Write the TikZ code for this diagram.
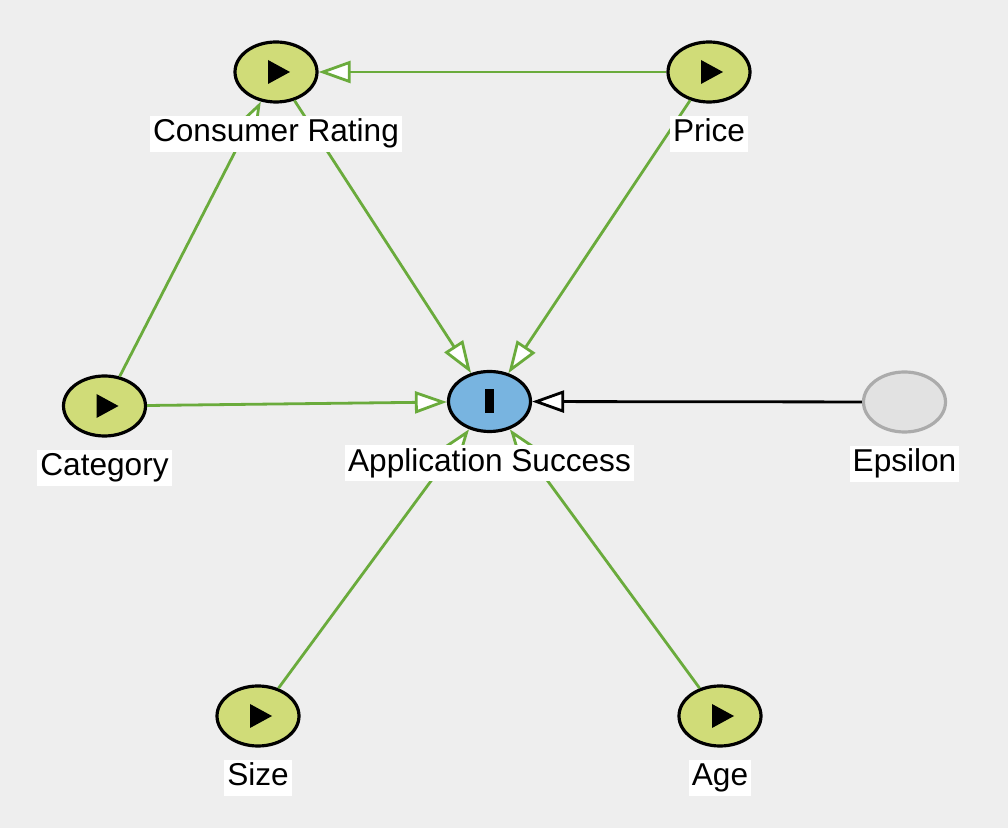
\documentclass[tikz,border=0pt]{standalone}
\usepackage{fontspec}
\setmainfont{Liberation Sans}
\usetikzlibrary{positioning,arrows.meta,shapes.geometric}
\definecolor{bgray}{HTML}{EEEEEE}
\definecolor{vargreen}{HTML}{D0DC78}
\definecolor{edgegreen}{HTML}{6AAB3C}
\definecolor{outblue}{HTML}{78B4E0}
\definecolor{errgray}{HTML}{E2E2E2}
\definecolor{errline}{HTML}{ABABAB}

\begin{document}
\begin{tikzpicture}[x=0.5pt,y=-0.5pt,
    var/.style={ellipse, draw, line width=1.6pt, fill=vargreen,
      minimum width=41pt, minimum height=30pt, inner sep=0pt,
      path picture={\fill[black] ([xshift=-4pt,yshift=6pt]path picture bounding box.center)
        -- ++(11pt,-6pt) -- ++(-11pt,-6pt) -- cycle;}},
    outvar/.style={var, fill=outblue,
      path picture={\fill[black] ([xshift=-2.25pt,yshift=-6pt]path picture bounding box.center)
        rectangle ++(4.5pt,12pt);}},
    errvar/.style={ellipse, draw=errline, line width=1.6pt, fill=errgray,
      minimum width=41pt, minimum height=30pt, inner sep=0pt},
    edge/.style={draw=edgegreen, line width=1.4pt,
      -{Triangle[length=16pt,width=11pt,fill=white]}},
    erredge/.style={edge, draw=black},
    lbl/.style={fill=white, inner xsep=1.5pt, inner ysep=1.5pt,
      text height=11.5pt, text depth=3.5pt, font=\fontsize{15.8}{18}\selectfont}]
  \fill[bgray] (0,0) rectangle (1008,828);
  \useasboundingbox (0,0) rectangle (1008,828);
  \node[var] (cr) at (276,72) {};
  \node[var] (price) at (709,72) {};
  \node[var] (cat) at (104.5,406) {};
  \node[outvar] (app) at (489.5,401.5) {};
  \node[errvar] (eps) at (904.5,402) {};
  \node[var] (size) at (258,716) {};
  \node[var] (age) at (720,716) {};
  \draw[edge] (price) -- (cr);
  \draw[edge] (cat) -- (cr);
  \draw[edge] (cr) -- (app);
  \draw[edge] (price) -- (app);
  \draw[edge] (cat) -- (app);
  \draw[edge] (size) -- (app);
  \draw[edge] (age) -- (app);
  \draw[erredge] (eps) -- (app);
  \node[lbl, below=6pt of cr] (crl) {Consumer Rating};
  \node[lbl, below=6pt of price] (pricel) {Price};
  \node[lbl, below=6pt of cat] (catl) {Category};
  \node[lbl, below=6pt of app] (appl) {Application Success};
  \node[lbl, below=6pt of eps] (epsl) {Epsilon};
  \node[lbl, below=6pt of size] (sizel) {Size};
  \node[lbl, below=6pt of age] (agel) {Age};
\end{tikzpicture}
\end{document}
